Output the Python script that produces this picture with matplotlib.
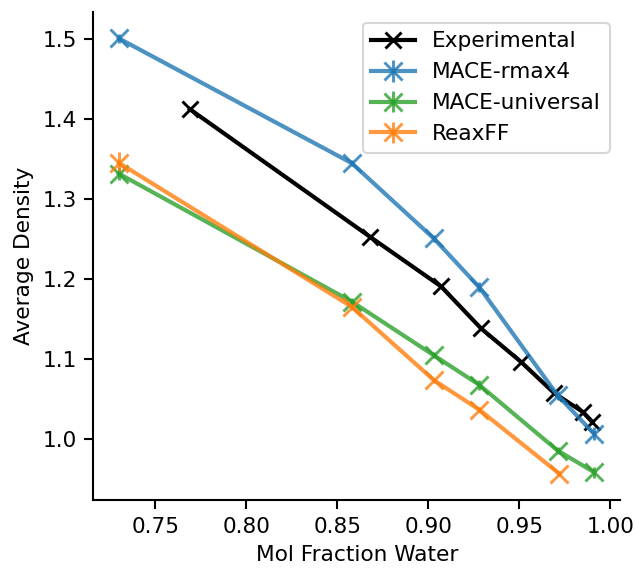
import matplotlib
matplotlib.use("Agg")
import matplotlib.pyplot as plt

plt.rcParams["font.size"] = 10.4
plt.rcParams["axes.linewidth"] = 1.0
plt.rcParams["xtick.major.width"] = 1.0
plt.rcParams["ytick.major.width"] = 1.0
plt.rcParams["xtick.major.size"] = 4.5
plt.rcParams["ytick.major.size"] = 4.5

# Experimental data
exp_x = [0.769, 0.868, 0.907, 0.929, 0.951, 0.969, 0.985, 0.990]
exp_y = [1.4125, 1.253, 1.191, 1.1385, 1.0966, 1.058, 1.034, 1.022]

# Model data
model_x = [0.73, 0.858, 0.903, 0.928, 0.971, 0.991]
rmax4_y = [1.501, 1.345, 1.251, 1.190, 1.055, 1.007]
rmax4_err = [0.006, 0.004, 0.004, 0.006, 0.006, 0.008]
univ_y = [1.332, 1.172, 1.105, 1.068, 0.986, 0.959]
univ_err = [0.008, 0.005, 0.004, 0.006, 0.004, 0.007]
reax_x = [0.73, 0.858, 0.903, 0.928, 0.972]
reax_y = [1.3455, 1.1655, 1.074, 1.037, 0.957]
reax_err = [0.013, 0.004, 0.003, 0.003, 0.003]

fig = plt.figure(figsize=(635/150, 569/150), dpi=150)
ax = fig.add_axes([0.147, 0.121, 0.830, 0.858])

lw = 2.0
ax.plot(exp_x, exp_y, color="black", marker="x", markersize=8, mew=1.4, lw=lw,
        label="Experimental")
ax.errorbar(model_x, rmax4_y, yerr=rmax4_err, color="#1f77b4", marker="x", markersize=9,
            mew=1.4, lw=lw, elinewidth=1.4, alpha=0.8, label="MACE-rmax4")
ax.errorbar(model_x, univ_y, yerr=univ_err, color="#2ca02c", marker="x", markersize=9,
            mew=1.4, lw=lw, elinewidth=1.4, alpha=0.8, label="MACE-universal")
ax.errorbar(reax_x, reax_y, yerr=reax_err, color="#ff7f0e", marker="x", markersize=9,
            mew=1.4, lw=lw, elinewidth=1.4, alpha=0.8, label="ReaxFF")

ax.set_xlim(0.716, 1.0055)
ax.set_ylim(0.924, 1.534)
ax.set_xticks([0.75, 0.80, 0.85, 0.90, 0.95, 1.00])
ax.set_yticks([1.0, 1.1, 1.2, 1.3, 1.4, 1.5])
ax.set_xlabel("Mol Fraction Water")
ax.set_ylabel("Average Density")
ax.spines["top"].set_visible(False)
ax.spines["right"].set_visible(False)
ax.legend(loc="upper right")

fig.savefig("out.png", dpi=150)
